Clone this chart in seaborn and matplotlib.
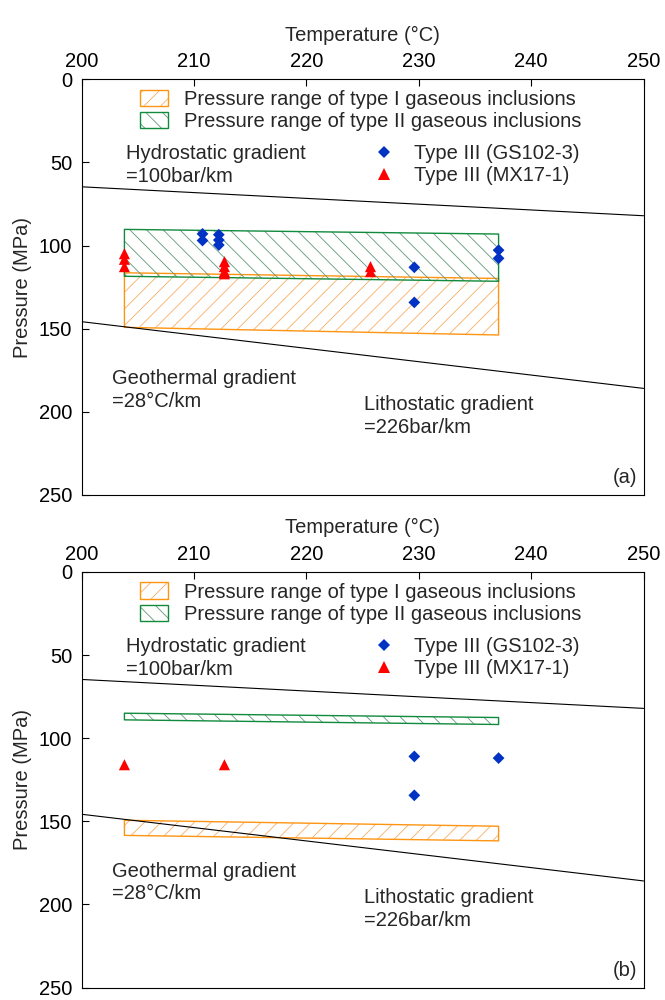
import numpy as np
import pandas as pd
import matplotlib
matplotlib.use("Agg")
import matplotlib.pyplot as plt
import seaborn as sns
from matplotlib.patches import Patch
from matplotlib.lines import Line2D

# ── Plot style ───────────────────────────────────────────────
sns.set_theme(style="white")
plt.rcParams['font.family'] = ['Liberation Sans', 'DejaVu Sans']
plt.rcParams['hatch.linewidth'] = 0.6
FS = 14.5

# 1. DATA
# ============================================================
grad_t = [200, 250]
hydro_p = [64.7, 82.1]
litho_p = [145.8, 185.9]

box_t = [203.8, 237.1]

# panel (a)
a_type1_top = [116.4, 119.8]
a_type1_bot = [149.2, 153.8]
a_type2_top = [90.3, 93.1]
a_type2_bot = [118.5, 121.5]
a_gs_t = [210.75, 210.75, 212.2, 212.2, 212.2, 229.6, 229.6, 237.1, 237.1]
a_gs_p = [93.0, 97.0, 93.5, 96.7, 99.7, 113.1, 134.2, 102.8, 107.7]
a_mx_t = [203.8, 203.8, 203.8, 212.7, 212.7, 212.7, 212.7, 225.7, 225.7]
a_mx_p = [104.9, 108.3, 112.7, 109.7, 112.7, 115.7, 117.0, 112.7, 115.7]

# panel (b)
b_type1_top = [149.4, 153.0]
b_type1_bot = [158.5, 161.8]
b_type2_top = [85.0, 87.6]
b_type2_bot = [89.0, 91.8]
b_gs_t = [229.6, 229.6, 237.1]
b_gs_p = [111.0, 134.4, 112.0]
b_mx_t = [203.8, 212.7]
b_mx_p = [116.0, 116.0]

x_ticks = [200, 210, 220, 230, 240, 250]
y_ticks = [0, 50, 100, 150, 200, 250]

ORANGE_EDGE = '#FF9410'
ORANGE_HATCH = '#F9AD66'
GREEN_EDGE = '#108A3C'
GREEN_HATCH = '#5E9878'
BLUE = '#0033C4'
RED = '#FF0000'


def hatched_box(ax, top, bot, hatch, hcol, ecol):
    ax.fill_between(box_t, top, bot, facecolor='none', edgecolor=hcol,
                    hatch=hatch, linewidth=0)
    ax.fill_between(box_t, top, bot, facecolor='none', edgecolor=ecol,
                    linewidth=1.0)


def draw_panel(ax, t1_top, t1_bot, t2_top, t2_bot, gs_t, gs_p, mx_t, mx_p, tag):
    grad = pd.DataFrame({'T': grad_t, 'hydro': hydro_p, 'litho': litho_p})
    sns.lineplot(data=grad, x='T', y='hydro', ax=ax, color='black', lw=0.8)
    sns.lineplot(data=grad, x='T', y='litho', ax=ax, color='black', lw=0.8)

    hatched_box(ax, t1_top, t1_bot, '//', ORANGE_HATCH, ORANGE_EDGE)
    hatched_box(ax, t2_top, t2_bot, '\\\\', GREEN_HATCH, GREEN_EDGE)

    sns.scatterplot(x=gs_t, y=gs_p, ax=ax, marker='D', s=36, color=BLUE,
                    edgecolor='none', zorder=5)
    sns.scatterplot(x=mx_t, y=mx_p, ax=ax, marker='^', s=64, color=RED,
                    edgecolor='none', zorder=5)

    ax.set_xlim(200, 250)
    ax.set_ylim(250, 0)
    ax.set_xticks(x_ticks)
    ax.set_yticks(y_ticks)
    ax.xaxis.tick_top()
    ax.xaxis.set_label_position('top')
    ax.set_xlabel('Temperature (°C)', fontsize=FS, labelpad=8)
    ax.set_ylabel('Pressure (MPa)', fontsize=FS, labelpad=5)
    ax.tick_params(axis='x', which='both', direction='in', length=5, width=0.8,
                   top=True, bottom=False, labelsize=FS, pad=6, colors='black')
    ax.tick_params(axis='y', which='both', direction='in', length=5, width=0.8,
                   left=True, right=False, labelsize=FS, pad=7, colors='black')
    for sp in ax.spines.values():
        sp.set_color('black')
        sp.set_linewidth(0.8)

    # annotations
    ax.text(203.9, 51.7, 'Hydrostatic gradient\n=100bar/km', fontsize=FS,
            va='center', ha='left', linespacing=1.25)
    ax.text(202.7, 186.8, 'Geothermal gradient\n=28°C/km', fontsize=FS,
            va='center', ha='left', linespacing=1.25)
    ax.text(225.1, 202.7, 'Lithostatic gradient\n=226bar/km', fontsize=FS,
            va='center', ha='left', linespacing=1.25)
    ax.text(0.988, 0.042, tag, transform=ax.transAxes, fontsize=FS,
            ha='right', va='center')

    # legends
    h1 = (Patch(facecolor='none', edgecolor=ORANGE_HATCH, hatch='//', lw=0),
          Patch(facecolor='none', edgecolor=ORANGE_EDGE, lw=1.0))
    h2 = (Patch(facecolor='none', edgecolor=GREEN_HATCH, hatch='\\\\', lw=0),
          Patch(facecolor='none', edgecolor=GREEN_EDGE, lw=1.0))
    leg1 = ax.legend([h1, h2],
                     ['Pressure range of type I gaseous inclusions',
                      'Pressure range of type II gaseous inclusions'],
                     loc='center left', bbox_to_anchor=(0.1038, 0.925),
                     frameon=False, fontsize=FS, borderpad=0, borderaxespad=0,
                     handlelength=1.41, handleheight=0.86, handletextpad=0.75,
                     labelspacing=0.15)
    ax.add_artist(leg1)
    m1 = Line2D([], [], marker='D', ls='none', color=BLUE, markersize=5.9,
                markeredgewidth=0)
    m2 = Line2D([], [], marker='^', ls='none', color=RED, markersize=8.0,
                markeredgewidth=0)
    ax.legend([m1, m2], ['Type III (GS102-3)', 'Type III (MX17-1)'],
              loc='center left', bbox_to_anchor=(0.52, 0.7946),
              frameon=False, fontsize=FS, borderpad=0, borderaxespad=0,
              handlelength=1.0, handletextpad=0.97, labelspacing=0.15)


# 2. FIGURE
# ============================================================
fig = plt.figure(figsize=(6.65, 10), dpi=100)
ax_a = fig.add_axes([0.1229, 0.505, 0.8448, 0.4158])
ax_b = fig.add_axes([0.1229, 0.0125, 0.8448, 0.4156])

draw_panel(ax_a, a_type1_top, a_type1_bot, a_type2_top, a_type2_bot,
           a_gs_t, a_gs_p, a_mx_t, a_mx_p, '(a)')
draw_panel(ax_b, b_type1_top, b_type1_bot, b_type2_top, b_type2_bot,
           b_gs_t, b_gs_p, b_mx_t, b_mx_p, '(b)')

fig.savefig('out.png', dpi=100, facecolor='white')
